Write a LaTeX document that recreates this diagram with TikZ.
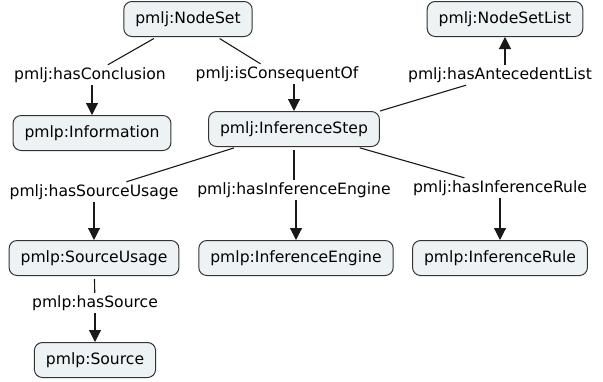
\documentclass[tikz,border=0pt]{standalone}
\usepackage{fontspec}
\setmainfont{DejaVu Sans}
\usetikzlibrary{arrows.meta}
\definecolor{boxfill}{HTML}{EDF3F5}
\definecolor{boxline}{HTML}{333333}
\begin{document}
\begin{tikzpicture}[x=1pt,y=-1pt,
  concept/.style={draw=boxline,fill=boxfill,line width=1pt,rounded corners=8pt,
    minimum height=35pt,inner xsep=11.5pt,font=\fontsize{15.6}{18}\selectfont},
  rel/.style={inner xsep=2pt,inner ysep=0pt,minimum height=20pt,font=\fontsize{15.6}{18}\selectfont},
  ln/.style={line width=1.1pt,draw=black!90},
  sh/.style={shorten <=3pt},
  arr/.style={ln,-{Triangle[length=12pt,width=12pt]}}]
\useasboundingbox (0,0) rectangle (603,381);
% concepts
\node[concept] (ns) at (188,19) {pmlj:NodeSet};
\node[concept] (nsl) at (505,19) {pmlj:NodeSetList};
\node[concept] (info) at (92,133) {pmlp:Information};
\node[concept] (is) at (294,129) {pmlj:InferenceStep};
\node[concept] (su) at (94,258) {pmlp:SourceUsage};
\node[concept] (ie) at (296,258) {pmlp:InferenceEngine};
\node[concept] (ir) at (500,258) {pmlp:InferenceRule};
\node[concept] (src) at (95,360) {pmlp:Source};
% relation labels
\node[rel] (hc) at (90,75) {pmlj:hasConclusion};
\node[rel] (ico) at (277,74) {pmlj:isConsequentOf};
\node[rel] (hal) at (500,75) {pmlj:hasAntecedentList};
\node[rel] (hsu) at (94,192) {pmlj:hasSourceUsage};
\node[rel] (hie) at (294,190) {pmlj:hasInferenceEngine};
\node[rel] (hir) at (500,188) {pmlj:hasInferenceRule};
\node[rel] (hs) at (95,303) {pmlp:hasSource};
% connectors
\draw[ln,sh] (ns) -- (hc);
\draw[arr] (hc.south -| info) -- (info);
\draw[ln,sh] (ns) -- (ico);
\draw[arr] (ico.south -| is) -- (is);
\draw[ln] (is.north east) -- (hal);
\draw[arr] (hal.north -| nsl) -- (nsl);
\draw[ln,sh] (is) -- (hsu);
\draw[arr] (hsu.south -| su) -- (su);
\draw[ln,sh] (is) -- (hie);
\draw[arr] (hie.south -| ie) -- (ie);
\draw[ln,sh] (is) -- (hir);
\draw[arr] (hir) -- (ir);
\draw[ln,sh] (su) -- (hs);
\draw[arr] (hs) -- (src);
\end{tikzpicture}
\end{document}
